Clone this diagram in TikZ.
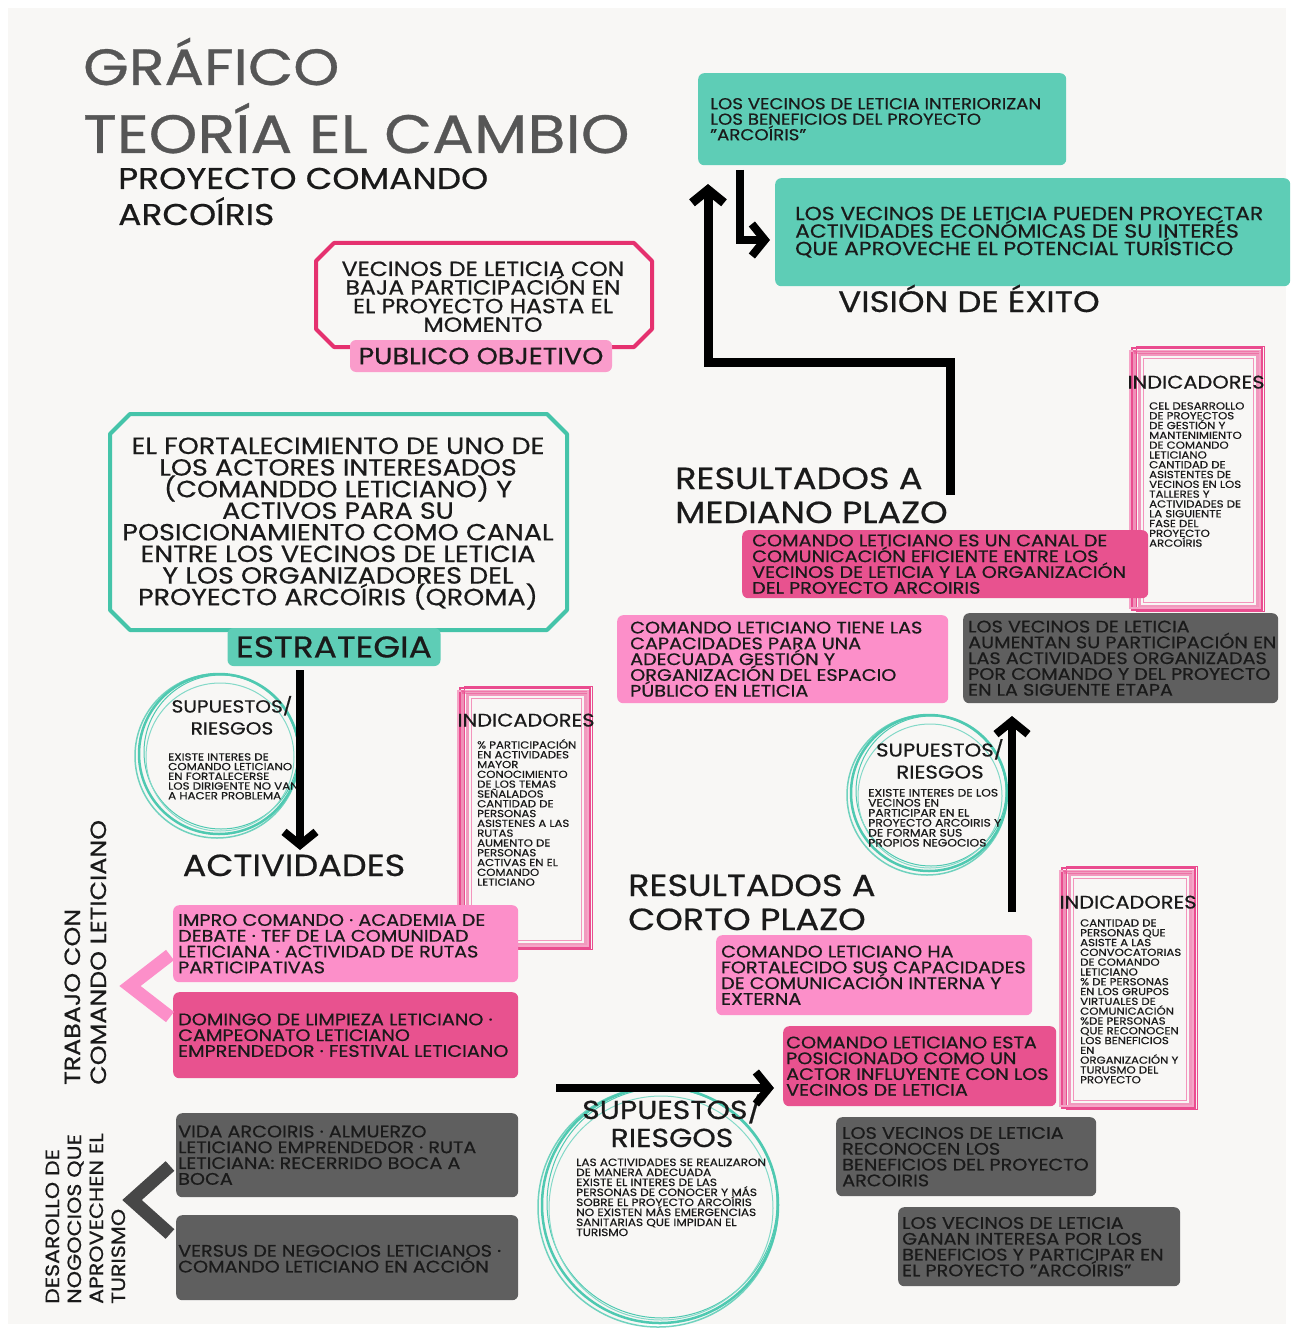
\documentclass[tikz,border=0pt]{standalone}
\usepackage{fontspec}
\setmainfont{Poppins}[FakeStretch=1.15, FakeBold=0.6]
\usetikzlibrary{arrows.meta}
\definecolor{bg}{HTML}{F8F7F5}
\definecolor{tealF}{HTML}{5ECDB6}
\definecolor{tealS}{HTML}{45C4A9}
\definecolor{tealC}{HTML}{4FC9B1}
\definecolor{pinkL}{HTML}{FC8FC9}
\definecolor{pinkD}{HTML}{E8528F}
\definecolor{pinkP}{HTML}{FA9CCB}
\definecolor{magB}{HTML}{E5316F}
\definecolor{frameP}{HTML}{EA4C8F}
\definecolor{grayB}{HTML}{5F5F5F}
\definecolor{grayC}{HTML}{474747}
\definecolor{ink}{HTML}{1A1A1A}
\definecolor{titleG}{HTML}{565656}
\newcommand\setfs[2]{\fontsize{#1}{#2}\selectfont}
\newcommand\lft[1]{\vtop{\lineskiplimit=-\maxdimen\let\\\cr\halign{##\hfil\cr#1\crcr}}}
\newcommand\ctr[1]{\vtop{\lineskiplimit=-\maxdimen\let\\\cr\halign{\hfil##\hfil\cr#1\crcr}}}
\newcommand\sketchframe[4]{%
  \draw[frameP, line width=2pt] (#1,#2) rectangle (#3,#4);
  \draw[frameP, line width=1pt] ({#1+4},{#2-2}) rectangle ({#3+2},{#4+1});
  \draw[frameP!70, line width=3pt, opacity=.8] ({#1+7},{#2+6}) rectangle ({#3-5},{#4-4});
  \draw[frameP!50, line width=1.2pt] ({#1-2},{#2+3}) rectangle ({#3-2},{#4-2});
  \draw[frameP, line width=4pt, opacity=.6] ({#1+3},{#2+2}) -- ({#1+3},{#4-3});
  \draw[frameP, line width=3pt, opacity=.5] ({#1+2},{#2+4}) -- ({#3-3},{#2+4});
  \draw[frameP!60, line width=1pt] ({#1+11},{#2+10}) rectangle ({#3-9},{#4-8});
}
\newcommand\brushcircle[3]{%
  \draw[tealC, line width=2.5pt] (#1,#2) circle[radius={#3*1pt}];
  \draw[tealC, line width=1pt] ({#1+2},{#2-2}) circle[radius={(#3-3)*1pt}];
  \draw[tealC, line width=1.5pt, opacity=.8] ({#1-2},{#2+2}) circle[radius={(#3+2)*1pt}];
  \draw[tealC!70, line width=1pt] ({#1+1},{#2+3}) circle[radius={(#3-6)*1pt}];
}
\tikzset{
  bx/.style={anchor=north west, rounded corners=6pt, inner sep=0pt},
  txt/.style={inner sep=0pt, text=ink},
  btxt/.style={txt, anchor=west, font=\setfs{16.7}{15.8}},
  head/.style={txt, font=\setfs{30.5}{34}},
  tiny/.style={txt, anchor=base west, font=\setfs{10.2}{9.8}},
  indh/.style={txt, anchor=base, font=\setfs{18.2}{20}},
  bigarrow/.style={line width=8pt, draw=black, -{Straight Barb[length=13pt, width=32pt]}},
}
\begin{document}
\begin{tikzpicture}[x=1pt, y=-1pt]
\useasboundingbox (0,0) rectangle (1294,1332);
\fill[white] (0,0) rectangle (1294,1332);
\fill[bg] (8,8) rectangle (1286,1324);

% ---------- title
\node[txt, anchor=base west, text=titleG, font=\setfs{51}{60}] (t1) at (83,85) {GRÁFICO};
\node[txt, anchor=base west, text=titleG, font=\setfs{54}{60}] (t2) at (83,153) {TEORÍA EL CAMBIO};
\node[txt, anchor=base west, font=\setfs{30}{36}] (t3) at (118,189) {PROYECTO COMANDO};
\node[txt, anchor=base west, font=\setfs{30}{36}] (t4) at (118,225) {ARCOÍRIS};

% ---------- frames and circles
\sketchframe{460}{688}{590}{948}
\sketchframe{1132}{348}{1262}{610}
\sketchframe{1062}{868}{1195}{1108}
\brushcircle{219}{754}{80}
\brushcircle{929}{793}{78}
\brushcircle{660}{1205}{118}

% ---------- top right: vision
\node[bx, fill=tealF, minimum width=368pt, minimum height=92pt] (v1) at (698,73) {};
\node[txt, anchor=west, font=\setfs{15.8}{15.5}] (v1t) at ([xshift=12pt]v1.west)
  {\lft{LOS VECINOS DE LETICIA INTERIORIZAN\\LOS BENEFICIOS DEL PROYECTO\\"ARCOÍRIS"}};
\node[bx, fill=tealF, minimum width=515pt, minimum height=108pt] (v2) at (775,178) {};
\node[txt, anchor=west, font=\setfs{19}{17.5}] (v2t) at ([xshift=20pt]v2.west)
  {\lft{LOS VECINOS DE LETICIA PUEDEN PROYECTAR\\ACTIVIDADES ECONÓMICAS DE SU INTERÉS\\QUE APROVECHE EL POTENCIAL TURÍSTICO}};
\node[txt, anchor=base, font=\setfs{29.5}{30}] (vis) at (969,312) {VISIÓN DE ÉXITO};

% ---------- publico objetivo
\draw[magB, line width=4pt, line join=round] (334,243) -- (634,243) -- (652,261) -- (652,329) -- (634,347) -- (334,347) -- (316,329) -- (316,261) -- cycle;
\node[txt, anchor=base, font=\setfs{20.5}{18.6}] (pub) at (483,276) {\ctr{VECINOS DE LETICIA CON\\BAJA PARTICIPACIÓN EN\\EL PROYECTO HASTA EL\\MOMENTO}};
\node[fill=pinkP, rounded corners=6pt, minimum width=262pt, minimum height=32pt, inner sep=0pt, text=ink, font=\setfs{23.5}{24}] (publab) at (481,356) {PUBLICO OBJETIVO};

% ---------- estrategia
\draw[tealS, line width=4pt, line join=round] (130,414) -- (547,414) -- (567,434) -- (567,610) -- (547,630) -- (130,630) -- (110,610) -- (110,434) -- cycle;
\node[txt, anchor=base, font=\setfs{23.4}{21.6}] (estr) at (338,454) {\ctr{EL FORTALECIMIENTO DE UNO DE\\LOS ACTORES INTERESADOS\\(COMANDDO LETICIANO) Y\\ACTIVOS PARA SU\\POSICIONAMIENTO COMO CANAL\\ENTRE LOS VECINOS DE LETICIA\\Y LOS ORGANIZADORES DEL\\PROYECTO ARCOÍRIS (QROMA)}};
\node[fill=tealF, rounded corners=6pt, minimum width=213pt, minimum height=38pt, inner sep=0pt, text=ink, font=\setfs{30}{30}] (estrlab) at (334,647) {ESTRATEGIA};

% ---------- left circle text
\node[txt, anchor=base, font=\setfs{17.5}{22}] (sup1) at (232,712.5) {\ctr{SUPUESTOS/\\RIESGOS}};
\node[tiny, font=\setfs{10.3}{9.7}] (sup1t) at (168,760.5) {\lft{EXISTE INTERES DE\\COMANDO LETICIANO\\EN FORTALECERSE\\LOS DIRIGENTE NO VAN\\A HACER PROBLEMA}};

% ---------- actividades
\node[txt, anchor=base, font=\setfs{30.5}{32}] (act) at (294,876) {ACTIVIDADES};

% ---------- indicators left
\node[indh] (ind1) at (526,726.5) {INDICADORES};
\node[tiny] (ind1t) at (477,748.5) {\lft{\% PARTICIPACIÓN\\EN ACTIVIDADES\\MAYOR\\CONOCIMIENTO\\DE LOS TEMAS\\SEÑALADOS\\CANTIDAD DE\\PERSONAS\\ASISTENES A LAS\\RUTAS\\AUMENTO DE\\PERSONAS\\ACTIVAS EN EL\\COMANDO\\LETICIANO}};

% ---------- activity boxes
\node[bx, fill=pinkL, minimum width=345pt, minimum height=77pt] (impro) at (173,905) {};
\node[btxt] (improt) at ([xshift=5pt]impro.west)
  {\lft{IMPRO COMANDO · ACADEMIA DE\\DEBATE · TEF DE LA COMUNIDAD\\LETICIANA · ACTIVIDAD DE RUTAS\\PARTICIPATIVAS}};
\node[bx, fill=pinkD, minimum width=345pt, minimum height=86pt] (domingo) at (173,992) {};
\node[btxt] (domingot) at ([xshift=5pt]domingo.west)
  {\lft{DOMINGO DE LIMPIEZA LETICIANO ·\\CAMPEONATO LETICIANO\\EMPRENDEDOR · FESTIVAL LETICIANO}};
\node[bx, fill=grayB, minimum width=342pt, minimum height=84pt] (vida) at (176,1113) {};
\node[btxt] (vidat) at ([xshift=2pt]vida.west)
  {\lft{VIDA ARCOIRIS · ALMUERZO\\LETICIANO EMPRENDEDOR · RUTA\\LETICIANA: RECERRIDO BOCA A\\BOCA}};
\node[bx, fill=grayB, minimum width=342pt, minimum height=85pt] (versus) at (176,1215) {};
\node[btxt] (versust) at ([xshift=2pt,yshift=-1pt]versus.west)
  {\lft{VERSUS DE NEGOCIOS LETICIANOS ·\\COMANDO LETICIANO EN ACCIÓN}};

% chevrons
\draw[pinkL, line width=13pt, line join=miter] (170,955) -- (130,986) -- (170,1017);
\draw[grayC, line width=13pt, line join=miter] (170,1166) -- (132,1200) -- (170,1234);

% vertical labels
\node[txt, anchor=base west, rotate=90, font=\setfs{22}{26}] (trab) at (80,1085) {\lft{TRABAJO CON\\COMANDO LETICIANO}};
\node[txt, anchor=base west, rotate=90, font=\setfs{19.2}{22}] (desa) at (59,1304) {\lft{DESAROLLO DE\\NOGOCIOS QUE\\APROVECHEN EL\\TURISMO}};

% ---------- bottom circle text
\node[txt, anchor=base, font=\setfs{26}{28}] (sup3) at (672,1119) {\ctr{SUPUESTOS/\\RIESGOS}};
\node[tiny, font=\setfs{10.5}{10}] (sup3t) at (576,1166) {\lft{LAS ACTIVIDADES SE REALIZARON\\DE MANERA ADECUADA\\EXISTE EL INTERES DE LAS\\PERSONAS DE CONOCER Y MÁS\\SOBRE EL PROYECTO ARCOÍRIS\\NO EXISTEN MÁS EMERGENCIAS\\SANITARIAS QUE IMPIDAN EL\\TURISMO}};

% ---------- corto plazo
\node[head, anchor=base west] (corto) at (628,896) {\lft{RESULTADOS A\\CORTO PLAZO}};
\node[bx, fill=pinkL, minimum width=316pt, minimum height=80pt] (fort) at (716,935) {};
\node[btxt] (fortt) at ([xshift=5pt]fort.west)
  {\lft{COMANDO LETICIANO HA\\FORTALECIDO SUS CAPACIDADES\\DE COMUNICACIÓN INTERNA Y\\EXTERNA}};
\node[bx, fill=pinkD, minimum width=273pt, minimum height=80pt] (posi) at (783,1026) {};
\node[btxt] (posit) at ([xshift=3pt]posi.west)
  {\lft{COMANDO LETICIANO ESTA\\POSICIONADO COMO UN\\ACTOR INFLUYENTE CON LOS\\VECINOS DE LETICIA}};
\node[bx, fill=grayB, minimum width=260pt, minimum height=79pt] (recon) at (836,1117) {};
\node[btxt] (recont) at ([xshift=6pt]recon.west)
  {\lft{LOS VECINOS DE LETICIA\\RECONOCEN LOS\\BENEFICIOS DEL PROYECTO\\ARCOIRIS}};
\node[bx, fill=grayB, minimum width=282pt, minimum height=79pt] (ganan) at (898,1207) {};
\node[btxt] (ganant) at ([xshift=4pt]ganan.west)
  {\lft{LOS VECINOS DE LETICIA\\GANAN INTERESA POR LOS\\BENEFICIOS Y PARTICIPAR EN\\EL PROYECTO "ARCOÍRIS"}};

% indicators bottom right
\node[indh] (ind3) at (1128,908.5) {INDICADORES};
\node[tiny] (ind3t) at (1080,926.5) {\lft{CANTIDAD DE\\PERSONAS QUE\\ASISTE A LAS\\CONVOCATORIAS\\DE COMANDO\\LETICIANO\\\% DE PERSONAS\\EN LOS GRUPOS\\VIRTUALES DE\\COMUNICACIÓN\\\%DE PERSONAS\\QUE RECONOCEN\\LOS BENEFICIOS\\EN\\ORGANIZACIÓN Y\\TURUSMO DEL\\PROYECTO}};

% middle circle text
\node[txt, anchor=base, font=\setfs{18.5}{22}] (sup2) at (940,756.5) {\ctr{SUPUESTOS/\\RIESGOS}};
\node[tiny, font=\setfs{10.7}{10}] (sup2t) at (868,796.5) {\lft{EXISTE INTERES DE LOS\\VECINOS EN\\PARTICIPAR EN EL\\PROYECTO ARCOIRIS Y\\DE FORMAR SUS\\PROPIOS NEGOCIOS}};

% ---------- mediano plazo
\node[head, anchor=base west] (mediano) at (675,489) {\lft{RESULTADOS A\\MEDIANO PLAZO}};
\node[bx, fill=pinkD, minimum width=406pt, minimum height=68pt] (canal) at (742,530) {};
\node[btxt] (canalt) at ([xshift=10pt]canal.west)
  {\lft{COMANDO LETICIANO ES UN CANAL DE\\COMUNICACIÓN EFICIENTE ENTRE LOS\\VECINOS DE LETICIA Y LA ORGANIZACIÓN\\DEL PROYECTO ARCOIRIS}};
\node[bx, fill=pinkL, minimum width=331pt, minimum height=88pt] (capa) at (617,615) {};
\node[btxt] (capat) at ([xshift=13pt]capa.west)
  {\lft{COMANDO LETICIANO TIENE LAS\\CAPACIDADES PARA UNA\\ADECUADA GESTIÓN Y\\ORGANIZACIÓN DEL ESPACIO\\PÚBLICO EN LETICIA}};
\node[bx, fill=grayB, minimum width=315pt, minimum height=90pt] (aum) at (963,613) {};
\node[btxt] (aumt) at ([xshift=5pt]aum.west)
  {\lft{LOS VECINOS DE LETICIA\\AUMENTAN SU PARTICIPACIÓN EN\\LAS ACTIVIDADES ORGANIZADAS\\POR COMANDO Y DEL PROYECTO\\EN LA SIGUENTE ETAPA}};

% indicators top right
\node[indh] (ind2) at (1196,388.5) {INDICADORES};
\node[tiny] (ind2t) at (1149,409.5) {\lft{CEL DESARROLLO\\DE PROYECTOS\\DE GESTIÓN Y\\MANTENIMIENTO\\DE COMANDO\\LETICIANO\\CANTIDAD DE\\ASISTENTES DE\\VECINOS EN LOS\\TALLERES Y\\ACTIVIDADES DE\\LA SIGUIENTE\\FASE DEL\\PROYECTO\\ARCOÍRIS}};

% ---------- arrows
\coordinate (a1s) at (300,670);
\coordinate (a1e) at (300,850);
\draw[bigarrow] (a1s) -- (a1e);
\coordinate (a2s) at (556,1088);
\coordinate (a2e) at (774,1088);
\draw[bigarrow] (a2s) -- (a2e);
\coordinate (a3s) at (1012,912);
\coordinate (a3e) at (1012,716);
\draw[bigarrow] (a3s) -- (a3e);
\coordinate (a4s) at (950,495);
\coordinate (a4e) at (708,184);
\draw[bigarrow, line width=9pt, line join=miter] (a4s) -- (950,362) -- (708,362) -- (a4e);
\coordinate (a5s) at (740,170);
\coordinate (a5e) at (770,240);
\draw[bigarrow, line join=miter] (a5s) -- (740,240) -- (a5e);
\end{tikzpicture}
\end{document}
